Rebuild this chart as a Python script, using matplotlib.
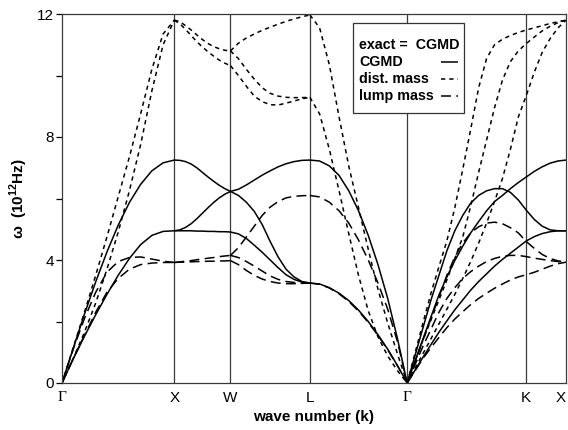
import numpy as np
import matplotlib
matplotlib.use('Agg')
import matplotlib.pyplot as plt
from matplotlib.lines import Line2D
from matplotlib.patches import Rectangle
from matplotlib.transforms import ScaledTranslation

plt.rcParams['font.family'] = ['Liberation Sans', 'DejaVu Sans']
plt.rcParams['mathtext.fontset'] = 'custom'
plt.rcParams['mathtext.bf'] = 'Liberation Sans:bold'
plt.rcParams['mathtext.rm'] = 'Liberation Sans'

# high-symmetry points along the path (units of 2*pi/a)
sym_labels = ['Γ', 'X', 'W', 'L', 'Γ', 'K', 'X']
sym_pos = [0.0, 1.0, 1.5, 2.2071, 3.0731, 4.1338, 4.4874]

# sample fractions along each segment
f11 = [0.0, 0.1, 0.2, 0.3, 0.4, 0.5, 0.6, 0.7, 0.8, 0.9, 1.0]
f21 = [0.0, 0.05, 0.1, 0.15, 0.2, 0.25, 0.3, 0.35, 0.4, 0.45, 0.5,
       0.55, 0.6, 0.65, 0.7, 0.75, 0.8, 0.85, 0.9, 0.95, 1.0]

# ---- Gamma -> X ----
cgmd_gx = [[0, 1.13, 2.24, 3.29, 4.26, 5.13, 5.87, 6.46, 6.90, 7.16, 7.25],
           [0, 0.78, 1.52, 2.22, 2.88, 3.50, 4.05, 4.50, 4.80, 4.93, 4.95]]
dist_gx = [[0, 1.15, 2.30, 3.50, 4.75, 6.05, 7.35, 8.75, 10.2, 11.35, 11.8],
           [0, 0.80, 1.65, 2.60, 3.70, 4.90, 6.25, 7.75, 9.5, 11.0, 11.8]]
lump_gx = [[0, 1.10, 2.10, 2.95, 3.60, 3.95, 4.08, 4.10, 4.03, 3.96, 3.92],
           [0, 0.80, 1.55, 2.30, 2.95, 3.40, 3.70, 3.85, 3.90, 3.92, 3.92]]

# ---- X -> W ----
cgmd_xw = [[7.25, 7.24, 7.20, 7.12, 7.00, 6.85, 6.70, 6.56, 6.43, 6.32, 6.23],
           [4.95, 4.98, 5.06, 5.18, 5.34, 5.52, 5.70, 5.87, 6.02, 6.14, 6.23],
           [4.95, 4.95, 4.95, 4.95, 4.94, 4.94, 4.93, 4.93, 4.92, 4.92, 4.91]]
dist_xw = [[11.8, 11.75, 11.62, 11.48, 11.32, 11.17, 11.04, 10.94, 10.87, 10.82, 10.8],
           [11.8, 11.68, 11.50, 11.30, 11.10, 10.93, 10.77, 10.63, 10.50, 10.40, 10.32]]
lump_xw = [[3.92, 3.94, 3.96, 3.98, 4.01, 4.03, 4.06, 4.08, 4.11, 4.13, 4.15],
           [3.92, 3.93, 3.93, 3.94, 3.95, 3.95, 3.96, 3.96, 3.97, 3.97, 3.98]]

# ---- W -> L ----
cgmd_wl = [[6.23, 6.30, 6.44, 6.60, 6.76, 6.90, 7.03, 7.13, 7.20, 7.24, 7.25],
           [6.23, 6.10, 5.88, 5.58, 5.15, 4.60, 4.10, 3.70, 3.45, 3.30, 3.25],
           [4.91, 4.85, 4.70, 4.48, 4.25, 4.00, 3.75, 3.52, 3.37, 3.28, 3.25]]
dist_wl = [[10.8, 11.05, 11.22, 11.35, 11.47, 11.57, 11.67, 11.76, 11.84, 11.91, 11.97],
           [10.8, 10.55, 10.20, 9.88, 9.60, 9.42, 9.33, 9.29, 9.28, 9.28, 9.29],
           [10.32, 10.0, 9.65, 9.33, 9.15, 9.05, 9.04, 9.10, 9.17, 9.24, 9.29]]
lump_wl = [[4.15, 4.40, 4.75, 5.10, 5.45, 5.72, 5.90, 6.02, 6.07, 6.09, 6.10],
           [4.15, 4.08, 3.95, 3.80, 3.64, 3.48, 3.37, 3.30, 3.27, 3.25, 3.25],
           [3.98, 3.85, 3.66, 3.50, 3.38, 3.30, 3.25, 3.23, 3.23, 3.24, 3.25]]

# ---- L -> Gamma ----
cgmd_lg = [[7.25, 7.22, 7.06, 6.75, 6.25, 5.60, 4.80, 3.85, 2.75, 1.45, 0],
           [3.25, 3.22, 3.10, 2.92, 2.68, 2.37, 2.00, 1.57, 1.10, 0.57, 0]]
dist_lg = [[11.97, 11.55, 10.35, 8.65, 7.05, 5.70, 4.35, 3.05, 1.95, 0.95, 0],
           [9.29, 8.75, 7.60, 6.25, 4.85, 3.50, 2.35, 1.50, 0.88, 0.40, 0]]
lump_lg = [[6.10, 6.05, 5.88, 5.60, 5.20, 4.65, 4.00, 3.25, 2.40, 1.35, 0],
           [3.25, 3.21, 3.09, 2.90, 2.65, 2.34, 1.97, 1.55, 1.08, 0.56, 0]]

# ---- Gamma -> K -> X ----
cgmd_gkx = [[0, 0.9, 1.8, 2.7, 3.5, 4.3, 4.95, 5.45, 5.85, 6.1, 6.25, 6.32, 6.32, 6.2, 5.95, 5.62, 5.32, 5.1, 4.98, 4.95, 4.95],
            [0, 0.72, 1.44, 2.15, 2.86, 3.45, 3.98, 4.45, 4.88, 5.25, 5.6, 5.9, 6.1, 6.32, 6.52, 6.7, 6.88, 7.03, 7.15, 7.22, 7.25],
            [0, 0.42, 0.84, 1.25, 1.65, 2.02, 2.38, 2.7, 3.02, 3.3, 3.55, 3.8, 4.02, 4.22, 4.42, 4.62, 4.76, 4.86, 4.92, 4.95, 4.95]]
dist_gkx = [[0, 0.98, 1.96, 2.92, 3.78, 4.62, 5.7, 6.95, 8.25, 9.6, 10.55, 11.0, 11.18, 11.3, 11.4, 11.48, 11.55, 11.62, 11.69, 11.75, 11.8],
            [0, 0.7, 1.4, 2.05, 2.7, 3.35, 4.05, 4.75, 5.75, 6.85, 7.9, 8.95, 9.85, 10.45, 10.8, 11.04, 11.25, 11.45, 11.6, 11.72, 11.8],
            [0, 0.48, 0.96, 1.44, 1.92, 2.4, 2.88, 3.4, 3.95, 4.55, 5.2, 5.9, 6.65, 7.6, 8.65, 9.35, 10.1, 10.75, 11.2, 11.55, 11.8]]
lump_gkx = [[0, 0.7, 1.4, 2.1, 2.8, 3.5, 4.1, 4.55, 4.88, 5.08, 5.2, 5.23, 5.18, 5.05, 4.88, 4.6, 4.38, 4.18, 4.05, 3.97, 3.93],
            [0, 0.6, 1.2, 1.75, 2.3, 2.75, 3.1, 3.4, 3.62, 3.8, 3.95, 4.05, 4.12, 4.15, 4.15, 4.11, 4.06, 4.02, 3.98, 3.95, 3.93],
            [0, 0.4, 0.8, 1.15, 1.48, 1.8, 2.08, 2.32, 2.55, 2.75, 2.92, 3.08, 3.22, 3.35, 3.45, 3.52, 3.6, 3.7, 3.8, 3.88, 3.93]]

segments = [
    (sym_pos[0], sym_pos[1], f11, cgmd_gx, dist_gx, lump_gx),
    (sym_pos[1], sym_pos[2], f11, cgmd_xw, dist_xw, lump_xw),
    (sym_pos[2], sym_pos[3], f11, cgmd_wl, dist_wl, lump_wl),
    (sym_pos[3], sym_pos[4], f11, cgmd_lg, dist_lg, lump_lg),
    (sym_pos[4], sym_pos[6], f21, cgmd_gkx, dist_gkx, lump_gkx),
]

W, H = 568, 430
fig = plt.figure(figsize=(W / 100, H / 100), dpi=100)
L, R, T, B = 62, 566, 14, 383
ax = fig.add_axes([L / W, (H - B) / H, (R - L) / W, (B - T) / H])

solid_kw = dict(color='black', lw=1.1, solid_capstyle='butt')
dist_kw = dict(color='black', lw=1.1, dashes=(2.8, 2.6), dash_capstyle='butt')
lump_kw = dict(color='black', lw=1.1, dashes=(6.5, 3.5), dash_capstyle='butt')

for x0, x1, fr, cg, di, lu in segments:
    xs = [x0 + f * (x1 - x0) for f in fr]
    for br in cg:
        ax.plot(xs, br, **solid_kw)
    for br in di:
        ax.plot(xs, br, **dist_kw)
    for br in lu:
        ax.plot(xs, br, **lump_kw)

for p in sym_pos[1:-1]:
    ax.axvline(p, color='#3a3a3a', lw=0.9, zorder=1)

ax.set_xlim(sym_pos[0], sym_pos[-1])
ax.set_ylim(0, 12)
ax.set_yticks([0, 4, 8, 12])
ax.set_yticks([2, 6, 10], minor=True)
ax.tick_params(axis='y', which='both', direction='out', length=4, width=0.9,
               labelsize=11, pad=1.5, colors='black')
ax.set_xticks(sym_pos)
ax.set_xticklabels(sym_labels)
ax.tick_params(axis='x', length=0, labelsize=11, pad=6)
for i, lbl in enumerate(ax.get_xticklabels()):
    if sym_labels[i] == 'Γ':
        lbl.set_family(['Liberation Serif', 'DejaVu Serif'])
last = ax.get_xticklabels()[-1]
last.set_transform(last.get_transform() + ScaledTranslation(-5 / 100, 0, fig.dpi_scale_trans))

for s in ax.spines.values():
    s.set_color('#3a3a3a')
    s.set_linewidth(0.9)

ax.set_xlabel('wave number (k)', fontsize=11, fontweight='bold', labelpad=3)
ax.set_ylabel(r'ω  (10$^{\mathbf{12}}$Hz)', fontsize=11, fontweight='bold', labelpad=5)

# legend box (axes coordinates)
def axx(px):
    return (px - L) / (R - L)

def axy(py):
    return (B - py) / (B - T)

box = Rectangle((axx(353), axy(113)), axx(464) - axx(353), axy(23) - axy(113),
                transform=ax.transAxes, facecolor='white', edgecolor='#333333',
                lw=0.9, zorder=5)
ax.add_patch(box)
leg_rows = [('exact =  CGMD', None), ('CGMD', solid_kw), ('dist. mass', dist_kw), ('lump mass', lump_kw)]
row_y = [45, 62, 79, 96]
for (txt, kw), py in zip(leg_rows, row_y):
    ax.text(axx(359), axy(py), txt, transform=ax.transAxes, fontsize=10.3,
            fontweight='bold', va='center', ha='left', zorder=6)
    if kw is not None:
        ax.add_line(Line2D([axx(441), axx(458)], [axy(py), axy(py)],
                           transform=ax.transAxes, zorder=6, **kw))

fig.savefig('out.png', dpi=100)
